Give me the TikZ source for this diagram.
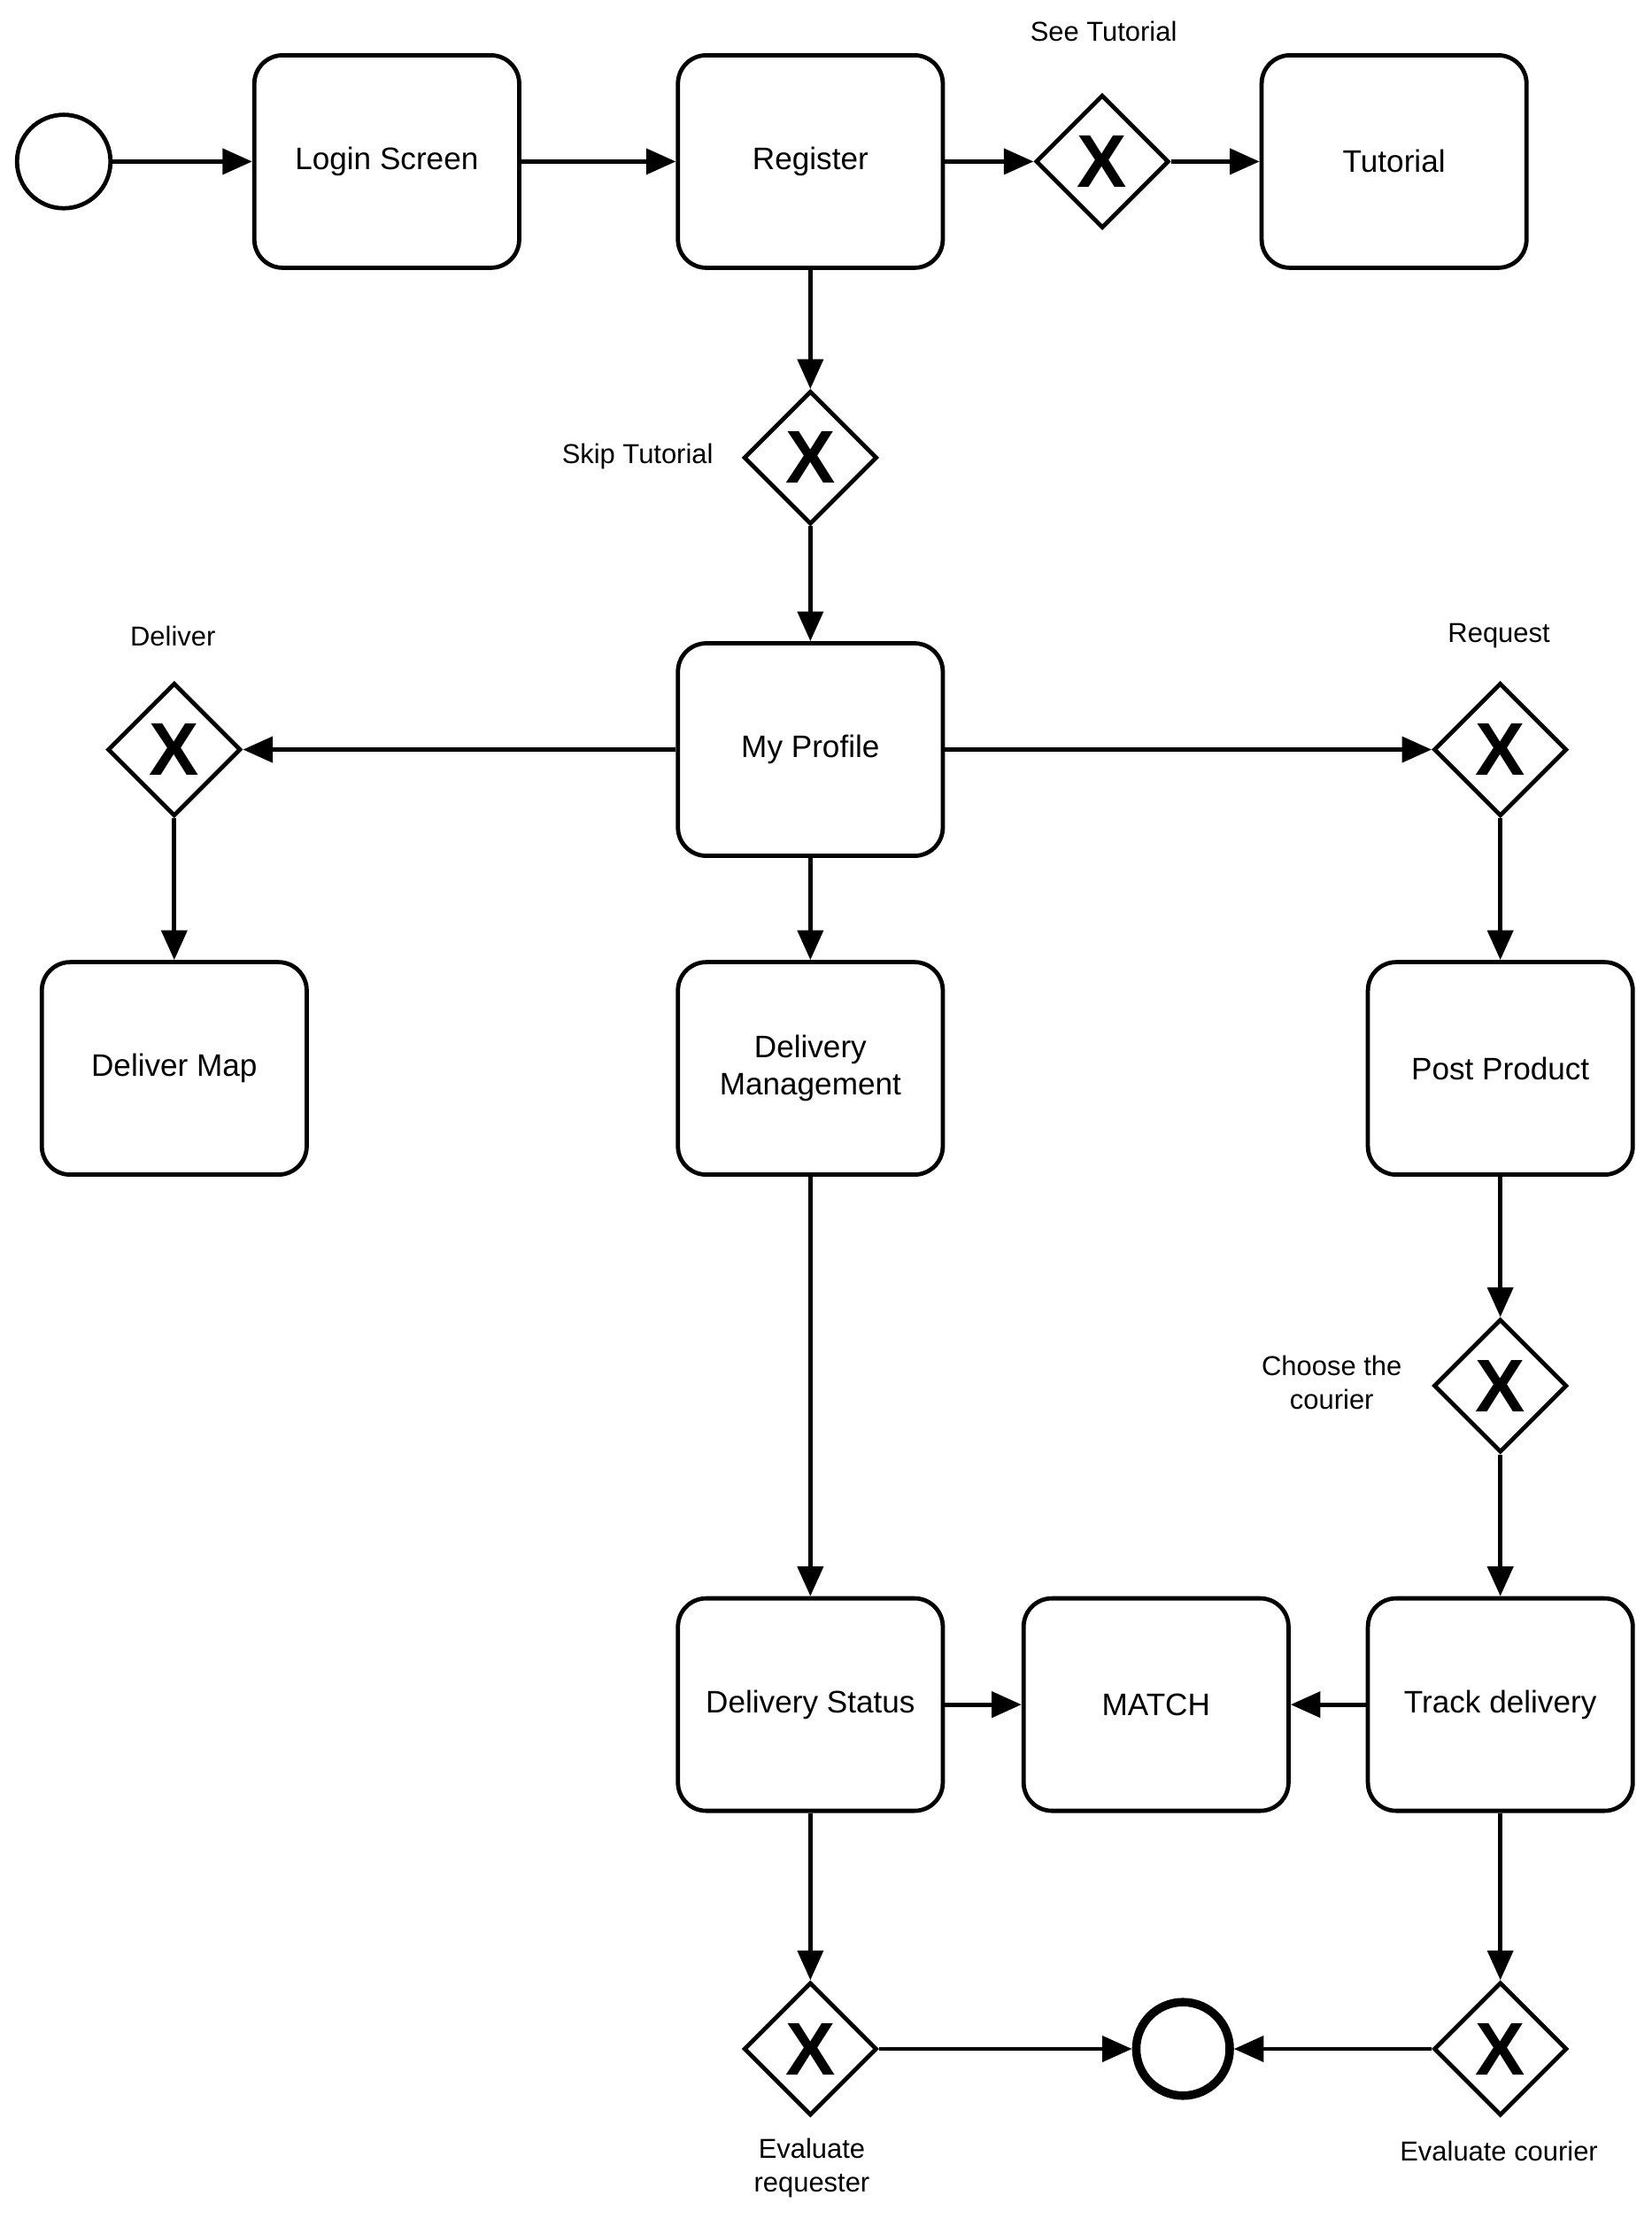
\documentclass[tikz,border=0pt]{standalone}
\usepackage{fontspec}
\setmainfont{Liberation Sans}
\usetikzlibrary{shapes.geometric,arrows.meta}
\tikzset{
  task/.style={draw, line width=1.7pt, rounded corners=0.4cm, minimum width=3.74cm, minimum height=3cm, align=center, font=\fontsize{12.5}{15}\selectfont},
  gate/.style={draw, diamond, line width=1.7pt, minimum size=1.88cm, inner sep=0pt, font=\fontsize{30}{30}\selectfont\bfseries},
  lbl/.style={align=center, font=\fontsize{11}{13.5}\selectfont},
  flow/.style={line width=1.7pt, -{Triangle[length=0.42cm,width=0.36cm]}}
}
\begin{document}
\begin{tikzpicture}[x=0.02cm, y=-0.02cm]
    \useasboundingbox (0,0) rectangle (1166,1571);

    % Eventos
    \node[draw, circle, line width=1.7pt, minimum size=1.32cm] (start) at (45,114) {};
    \node[draw, circle, line width=3.4pt, minimum size=1.32cm] (end) at (835,1446) {};

    % Tarefas
    \node[task] (login) at (273,114) {Login Screen};
    \node[task] (register) at (572,114) {Register};
    \node[task] (tutorial) at (984,114) {Tutorial};
    \node[task] (profile) at (572,529) {My Profile};
    \node[task] (delmap) at (123,754) {Deliver Map};
    \node[task] (delmgmt) at (572,754) {Delivery\\Management};
    \node[task] (post) at (1059,754) {Post Product};
    \node[task] (status) at (572,1203) {Delivery Status};
    \node[task] (match) at (816,1203) {MATCH};
    \node[task] (track) at (1059,1203) {Track delivery};

    % Gateways
    \node[gate] (gsee) at (778,114) {X};
    \node[gate] (gskip) at (572,323) {X};
    \node[gate] (gdeliver) at (123,529) {X};
    \node[gate] (grequest) at (1059,529) {X};
    \node[gate] (gchoose) at (1059,978) {X};
    \node[gate] (gevalreq) at (572,1446) {X};
    \node[gate] (gevalcour) at (1059,1446) {X};

    % Labels
    \node[lbl] at (779,22) {See Tutorial};
    \node[lbl] at (450,322) {Skip Tutorial};
    \node[lbl] at (122,449) {Deliver};
    \node[lbl] at (1058,449) {Request};
    \node[lbl] at (940,976) {Choose the\\courier};
    \node[lbl] at (573,1530) {Evaluate\\requester};
    \node[lbl] at (1058,1518) {Evaluate courier};

    % Fluxos
    \draw[flow] (start) -- (login);
    \draw[flow] (login) -- (register);
    \draw[flow] (register) -- (gsee);
    \draw[flow] (gsee) -- (tutorial);
    \draw[flow] (register) -- (gskip);
    \draw[flow] (gskip) -- (profile);
    \draw[flow] (profile) -- (gdeliver);
    \draw[flow] (profile) -- (grequest);
    \draw[flow] (gdeliver) -- (delmap);
    \draw[flow] (profile) -- (delmgmt);
    \draw[flow] (grequest) -- (post);
    \draw[flow] (delmgmt) -- (status);
    \draw[flow] (post) -- (gchoose);
    \draw[flow] (gchoose) -- (track);
    \draw[flow] (status) -- (match);
    \draw[flow] (track) -- (match);
    \draw[flow] (status) -- (gevalreq);
    \draw[flow] (track) -- (gevalcour);
    \draw[flow] (gevalreq) -- (end);
    \draw[flow] (gevalcour) -- (end);
\end{tikzpicture}
\end{document}
